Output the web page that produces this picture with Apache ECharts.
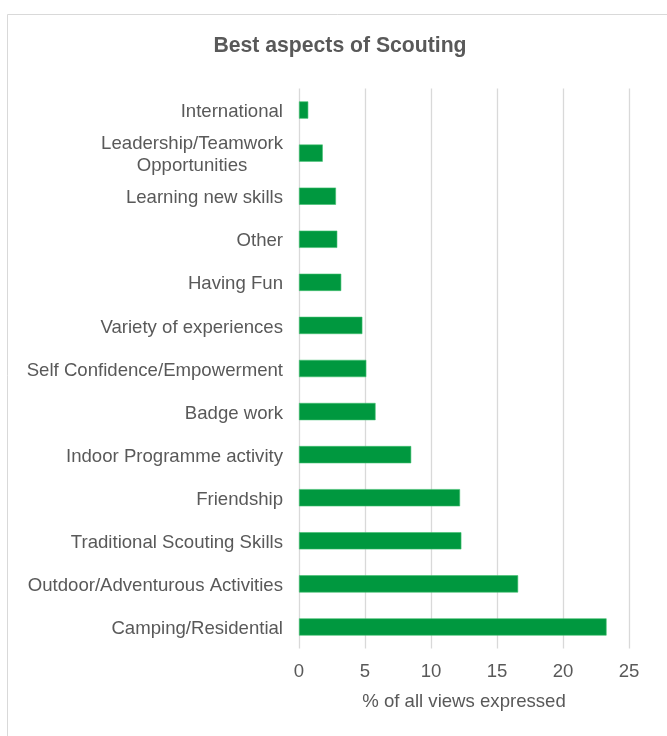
<!DOCTYPE html>
<html>
<head>
<meta charset="utf-8">
<script src="https://cdn.jsdelivr.net/npm/echarts@6/dist/echarts.min.js"></script>
<style>
  html, body { margin: 0; padding: 0; background: #fff; }
  #chart { width: 667px; height: 736px; }
</style>
</head>
<body>
<div id="chart"></div>
<script>
// Survey responses, listed top to bottom
var categories = [
  'International',
  'Leadership/Teamwork\nOpportunities',
  'Learning new skills',
  'Other',
  'Having Fun',
  'Variety of experiences',
  'Self Confidence/Empowerment',
  'Badge work',
  'Indoor Programme activity',
  'Friendship',
  'Traditional Scouting Skills',
  'Outdoor/Adventurous Activities',
  'Camping/Residential'
];
var shares = [0.7, 1.8, 2.8, 2.9, 3.2, 4.8, 5.1, 5.8, 8.5, 12.2, 12.3, 16.6, 23.3];
var xTicks = { min: 0, max: 25, step: 5 };

var textColor = '#595959';
var gridColor = '#d9d9d9';
var font = 'Liberation Sans, Arial, sans-serif';
var labelSize = 18.6;

var chart = echarts.init(document.getElementById('chart'), null, { renderer: 'canvas' });
chart.setOption({
  backgroundColor: '#fff',
  animation: false,
  graphic: [{
    type: 'rect',
    shape: { x: 7.5, y: 14.5, width: 700, height: 760 },
    style: { fill: 'none', stroke: gridColor, lineWidth: 1 },
    silent: true,
    z: -1
  }],
  title: {
    text: 'Best aspects of Scouting',
    left: 335,
    textAlign: 'center',
    top: 31,
    textStyle: { fontFamily: font, fontSize: 21.2, fontWeight: 'bold', color: textColor }
  },
  grid: { left: 299, right: 38, top: 88.5, bottom: 87.5, containLabel: false },
  xAxis: {
    type: 'value',
    min: xTicks.min,
    max: xTicks.max,
    interval: xTicks.step,
    axisLine: { show: false },
    axisTick: { show: false },
    splitLine: { lineStyle: { color: gridColor, width: 1.3 } },
    axisLabel: { color: textColor, fontFamily: font, fontSize: labelSize, margin: 14 },
    name: '% of all views expressed',
    nameLocation: 'middle',
    nameGap: 44,
    nameTextStyle: { color: textColor, fontFamily: font, fontSize: labelSize }
  },
  yAxis: {
    type: 'category',
    inverse: true,
    data: categories,
    axisLine: { show: false },
    axisTick: { show: false },
    axisLabel: {
      color: textColor,
      fontFamily: font,
      fontSize: labelSize,
      margin: 16,
      lineHeight: 22,
      padding: [4, 0, 0, 0],
      formatter: function (v) {
        return v.split('\n').map(function (s) { return '{c|' + s + '}'; }).join('\n');
      },
      rich: {
        c: { color: textColor, fontFamily: font, fontSize: labelSize, lineHeight: 22, align: 'center' }
      }
    }
  },
  series: [{
    type: 'bar',
    data: shares,
    barCategoryGap: '60%',
    itemStyle: { color: '#00983f', borderColor: '#3fbf6f', borderWidth: 0.6 }
  }]
});
</script>
</body>
</html>
